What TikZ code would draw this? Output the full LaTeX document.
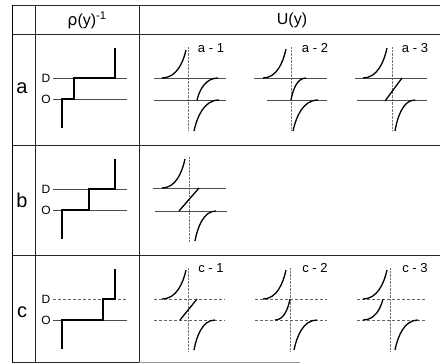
\documentclass[tikz,border=0pt]{standalone}
\usepackage{fontspec}
\setmainfont{Liberation Sans}
\newfontfamily\greekfont{DejaVu Sans}
\tikzset{
  grid/.style={line width=1pt,black!85},
  thinrule/.style={line width=0.5pt,black!70},
  dashrule/.style={line width=0.5pt,black!60,densely dashed},
  axisline/.style={line width=0.4pt,black!55,densely dotted},
  curve/.style={line width=1.3pt,black},
  stepline/.style={line width=1.3pt,black},
  head/.style={font=\fontsize{16}{18}\selectfont},
  rowlab/.style={font=\fontsize{20}{22}\selectfont},
  levlab/.style={font=\fontsize{12}{14}\selectfont},
  panlab/.style={font=\fontsize{13}{15}\selectfont}
}
\newcommand\convexcurve[4]{%
  \pgfmathsetmacro\cxa{#1+0.6*(#3-#1)}%
  \pgfmathsetmacro\cxb{#3-0.12*(#3-#1)}%
  \pgfmathsetmacro\cyb{#4+0.45*(#2-#4)}%
  \draw[curve] (#1,#2) .. controls (\cxa,#2) and (\cxb,\cyb) .. (#3,#4);}
\newcommand\concavecurve[4]{%
  \pgfmathsetmacro\cxa{#1+0.12*(#3-#1)}%
  \pgfmathsetmacro\cya{#2-0.45*(#2-#4)}%
  \pgfmathsetmacro\cxb{#1+0.4*(#3-#1)}%
  \draw[curve] (#1,#2) .. controls (\cxa,\cya) and (\cxb,#4) .. (#3,#4);}
\begin{document}
\begin{tikzpicture}[x=1pt,y=-1pt]
\useasboundingbox (0,0) rectangle (440,364);
% table
\draw[grid] (12,5) -- (440,5);
\draw[grid] (12,34) -- (440,34);
\draw[grid] (12,145) -- (440,145);
\draw[grid] (12,255) -- (440,255);
\draw[grid] (12,362) -- (139,362);
\draw[thinrule,black!40] (139,362) -- (300,362);
\draw[line width=0.6pt] (12,5) -- (12,362);
\draw[grid] (35,5) -- (35,362);
\draw[grid] (139,5) -- (139,362);
% headers
\node[head] (hrho) at (87,20) {{\greekfont ρ}(y)\textsuperscript{-1}};
\node[head] (hU) at (292,20) {U(y)};
\node[rowlab] (ra) at (22,88) {a};
\node[rowlab] (rb) at (22,200) {b};
\node[rowlab] (rc) at (22,312) {c};
% rho panels
\foreach \nm/\D/\O in {a/78/99, b/189/210, c/299/320}{
  \node[levlab] (D\nm) at (46,\D) {D};
  \node[levlab] (O\nm) at (46,\O) {O};
}
\draw[thinrule] (53,78) -- (127,78);
\draw[thinrule] (53,99) -- (127,99);
\draw[thinrule] (53,189) -- (127,189);
\draw[thinrule] (53,210) -- (127,210);
\draw[dashrule] (53,299) -- (127,299);
\draw[thinrule] (53,320) -- (127,320);
\draw[stepline] (62,128) -- (62,99) -- (74,99) -- (74,78) -- (115,78) -- (115,48);
\draw[stepline] (62,239) -- (62,210) -- (89,210) -- (89,189) -- (115,189) -- (115,159);
\draw[stepline] (62,349) -- (62,320) -- (103,320) -- (103,299) -- (115,299) -- (115,269);
% ---- row a U panels
\draw[axisline] (188,47) -- (188,131);
\draw[thinrule] (154,78) -- (226,78);
\draw[thinrule] (154,100) -- (226,100);
\convexcurve{162}{78}{186}{50}
\concavecurve{197}{100}{218}{78}
\concavecurve{194}{131}{219}{100}
\node[panlab] (la1) at (211,48) {a - 1};
\draw[axisline] (291,47) -- (291,131);
\draw[thinrule] (254,78) -- (327,78);
\draw[thinrule] (267,100) -- (327,100);
\convexcurve{263}{78}{286}{49}
\concavecurve{291}{100}{306}{78}
\concavecurve{293}{131}{318}{100}
\node[panlab] (la2) at (315,48) {a - 2};
\draw[axisline] (392,47) -- (392,131);
\draw[thinrule] (355,78) -- (427,78);
\draw[thinrule] (357,100) -- (427,100);
\convexcurve{363}{78}{387}{48}
\draw[curve] (385,101) -- (402,78);
\concavecurve{395}{131}{415}{100}
\node[panlab] (la3) at (415,48) {a - 3};
% ---- row b U panel
\draw[axisline] (189,157) -- (189,242);
\draw[thinrule] (153,188) -- (226,188);
\draw[thinrule] (155,211) -- (227,211);
\convexcurve{162}{188}{185}{159}
\draw[curve] (179,211) -- (199,188);
\concavecurve{195}{241}{216}{211}
% ---- row c U panels
\draw[axisline] (188,268) -- (188,352);
\draw[dashrule] (154,299) -- (225,299);
\draw[dashrule] (154,320) -- (225,320);
\convexcurve{162}{299}{186}{270}
\draw[curve] (180,320) -- (197,299);
\concavecurve{194}{350}{215}{320}
\node[panlab] (lc1) at (211,268) {c - 1};
\draw[axisline] (290,268) -- (290,352);
\draw[dashrule] (255,299) -- (327,299);
\draw[dashrule] (255,320) -- (327,320);
\convexcurve{263}{299}{286}{270}
\convexcurve{275}{320}{290}{299}
\concavecurve{294}{350}{317}{320}
\node[panlab] (lc2) at (315,268) {c - 2};
\draw[axisline] (390,268) -- (390,352);
\draw[dashrule] (357,299) -- (427,299);
\draw[dashrule] (357,320) -- (427,320);
\convexcurve{363}{299}{387}{270}
\convexcurve{363}{320}{383}{299}
\concavecurve{395}{350}{418}{320}
\node[panlab] (lc3) at (415,268) {c - 3};
\end{tikzpicture}
\end{document}
